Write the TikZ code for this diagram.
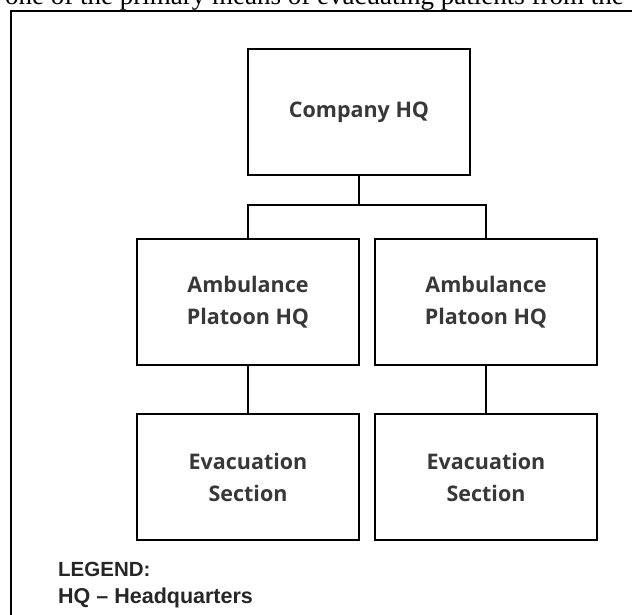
\documentclass[tikz,border=0pt]{standalone}
\usepackage{fontspec}
\setmainfont{Liberation Serif}
\newfontfamily\boxfont{Open Sans}
\newfontfamily\legendfont{Liberation Sans}
\usetikzlibrary{positioning}

\begin{document}
\begin{tikzpicture}[x=1pt,y=-1pt,
        unit/.style={rectangle,draw,line width=2.6pt,
            minimum width=222pt,minimum height=126pt,
            align=center,text=black!78,
            font=\boxfont\bfseries\fontsize{21.5}{32}\selectfont},
        link/.style={line width=2.6pt},
        legendtext/.style={anchor=base west,inner sep=0pt,
            text=black!85,
            font=\legendfont\bfseries\fontsize{20.5}{27}\selectfont}]
        \useasboundingbox (0,0) rectangle (632,614);
        \clip (0,0) rectangle (632,614);

        % running text above the figure
        \node[anchor=base west,inner sep=0pt,
            font=\fontsize{27}{30}\selectfont] (runtext) at (5,4)
            {one of the primary means of evacuating patients from the};
        \draw[line width=2.2pt] (11,640) -- (11,11) -- (660,11);

        % units
        \node[unit] (chq) at (359,112) {Company HQ};
        \node[unit] (aph1) at (248,302) {Ambulance\\Platoon HQ};
        \node[unit] (aph2) at (486,302) {Ambulance\\Platoon HQ};
        \node[unit] (evac1) at (248,477) {Evacuation\\Section};
        \node[unit] (evac2) at (486,477) {Evacuation\\Section};

        \coordinate (bus) at (chq.south |- 0,205);
        \draw[link] (chq.south) -- (bus);
        \draw[link] (aph1.north) |- (bus) -| (aph2.north);
        \draw[link] (aph1) -- (evac1);
        \draw[link] (aph2) -- (evac2);

        % legend
        \node[legendtext] (legend) at (58,576) {LEGEND:};
        \node[legendtext,font=\legendfont\bfseries\fontsize{21.5}{27}\selectfont]
            (legkey) at (58,603) {HQ – Headquarters};

    \end{tikzpicture}
\end{document}
